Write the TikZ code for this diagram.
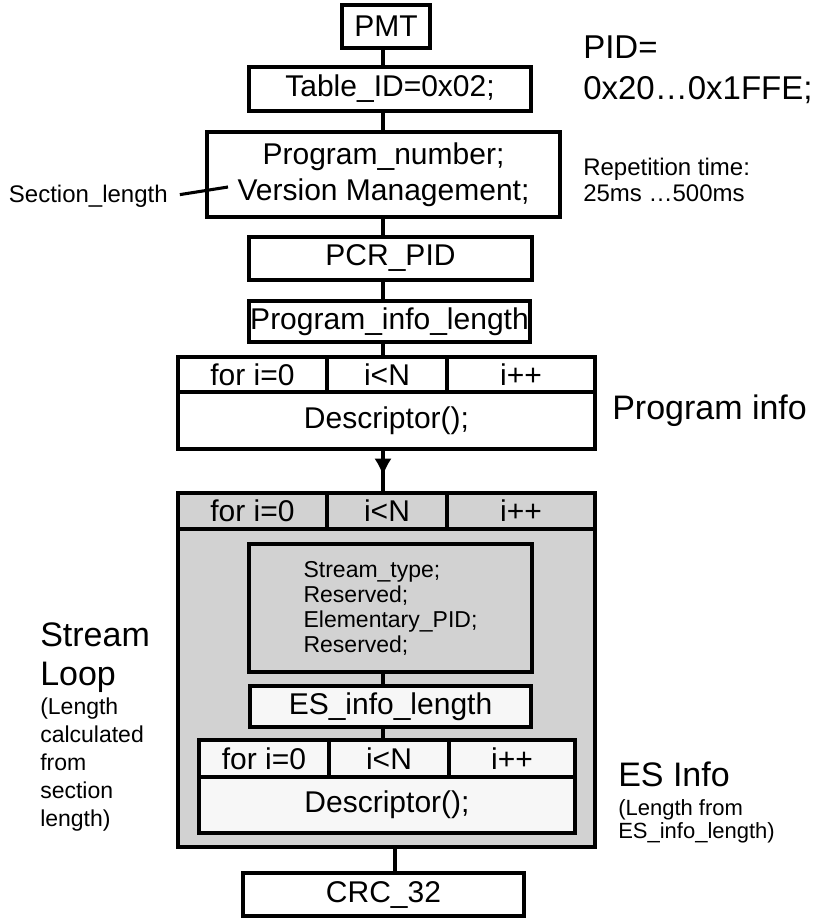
\documentclass[tikz,border=0pt]{standalone}
\usepackage{fontspec}
\setmainfont{Liberation Sans}
\usetikzlibrary{arrows.meta,decorations.markings,positioning}
\definecolor{loopgray}{RGB}{210,210,210}
\definecolor{paper}{RGB}{247,247,247}

\begin{document}
\begin{tikzpicture}[x=0.75pt, y=-0.75pt,
  fld/.style={draw, line width=2.3pt, inner sep=0pt, align=center,
    font=\fontsize{22.5}{27}\selectfont},
  wh/.style 2 args={minimum width=#1*0.75pt, minimum height=#2*0.75pt},
  lbl/.style={anchor=north west, inner sep=0pt, align=left,
    font=\fontsize{25.5}{29.25}\selectfont},
  note/.style={anchor=north west, inner sep=0pt, align=left,
    font=\fontsize{17.25}{21}\selectfont},
  link/.style={line width=2.3pt},
  arrowmid/.style={postaction={decorate}, decoration={markings,
    mark=at position 0.62 with {\arrow{Latex[length=13pt,width=13pt]}}}},
]
  \useasboundingbox (0,0) rectangle (827,918);
  \coordinate (spine) at (383,0);
  \coordinate (drop) at (395,0);

  % table header
  \node[fld, wh={88}{43}] (pmt) at (386,26.5) {PMT};
  \node[fld, wh={282}{44}] (tab) at (390,89) {Table\_ID=0x02;};
  \node[fld, wh={353}{85}] (prog) at (383.5,174.5) {Program\_number;\\Version Management;};
  \node[fld, wh={283}{43}] (pcr) at (390.5,258.5) {PCR\_PID};
  \node[fld, wh={281}{41}] (pil) at (389.5,321.5) {Program\_info\_length};

  % program info loop
  \node[fld, wh={149}{35}] (pa) at (252.5,374.5) {for i=0};
  \node[fld, wh={120}{35}] (pb) at (387,374.5) {i<N};
  \node[fld, wh={148}{35}] (pc) at (521,374.5) {i++};
  \node[fld, wh={417}{57}] (pd) at (386.5,420.5) {Descriptor();};

  % stream loop
  \node[fld, fill=loopgray, wh={417}{354}] (sloop) at (386.5,670) {};
  \node[fld, fill=loopgray, wh={149}{36}] (sa) at (252.5,511) {for i=0};
  \node[fld, fill=loopgray, wh={120}{36}] (sb) at (387,511) {i<N};
  \node[fld, fill=loopgray, wh={148}{36}] (sc) at (521,511) {i++};
  \node[fld, fill=loopgray, wh={283}{128}, align=left,
    font=\fontsize{17.25}{18.75}\selectfont] (stbox) at (390.5,608)
    {Stream\_type;\\Reserved;\\Elementary\_PID;\\Reserved;};
  \node[fld, fill=paper, wh={281}{41}] (esl) at (390.5,706.5) {ES\_info\_length};

  % ES info loop
  \node[fld, fill=paper, wh={130}{37}] (ea) at (264,758.5) {for i=0};
  \node[fld, fill=paper, wh={120}{37}] (eb) at (389,758.5) {i<N};
  \node[fld, fill=paper, wh={126}{37}] (ec) at (512,758.5) {i++};
  \node[fld, fill=paper, wh={376}{56}] (ed) at (387,805) {Descriptor();};

  \node[fld, wh={281}{43}] (crc) at (383.5,894.5) {CRC\_32};

  % connectors
  \draw[link] (pmt.south -| spine) -- (tab.north -| spine);
  \draw[link] (tab.south -| spine) -- (prog.north -| spine);
  \draw[link] (prog.south -| spine) -- (pcr.north -| spine);
  \draw[link] (pcr.south -| spine) -- (pil.north -| spine);
  \draw[link] (pil.south -| spine) -- (pb.north -| spine);
  \draw[link, arrowmid] (pd.south -| spine) -- (sb.north -| spine);
  \draw[link] (stbox.south -| spine) -- (esl.north -| spine);
  \draw[link] (esl.south -| spine) -- (eb.north -| spine);
  \draw[link] (sloop.south -| drop) -- (crc.north -| drop);

  % section length
  \node[anchor=east, inner sep=0pt, font=\fontsize{18}{19.5}\selectfont] (seclbl) at (168,196.5) {Section\_length};
  \coordinate (secend) at (228,187);
  \draw[link, shorten <=9pt] (seclbl.east) -- (secend);

  % side labels
  \node[lbl, font=\fontsize{24.75}{30.75}\selectfont] (pidlbl) at (583,36) {PID=\\0x20…0x1FFE;};
  \node[note, font=\fontsize{18}{19.5}\selectfont] (replbl) at (583,158) {Repetition time:\\25ms …500ms};
  \node[lbl] (pinfolbl) at (612,395) {Program info};
  \node[lbl] (streamlbl) at (40,622) {Stream\\Loop};
  \node[note] (streamnote) at (40,698) {(Length\\calculated\\from\\section\\length)};
  \node[lbl] (eslbl) at (618,762) {ES Info};
  \node[note, font=\fontsize{16.5}{17.25}\selectfont] (esnote) at (618,799) {(Length from\\ES\_info\_length)};
\end{tikzpicture}
\end{document}
